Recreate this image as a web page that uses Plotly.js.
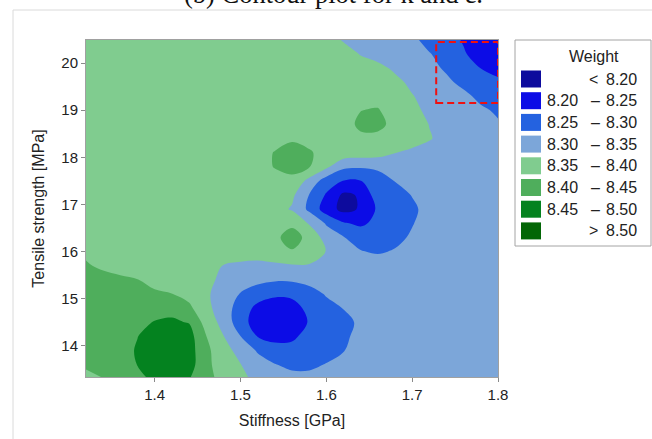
<!DOCTYPE html>
<html>
<head>
<meta charset="utf-8">
<script src="https://cdn.plot.ly/plotly-3.0.1.min.js"></script>
<style>
  html, body { margin: 0; padding: 0; background: #ffffff; }
  #chart { width: 652px; height: 439px; }
</style>
</head>
<body>
<div id="chart"></div>
<script>
// Sample grid: stiffness (GPa) along x, tensile strength (MPa) along y
const stiffness = [1.32, 1.34, 1.36, 1.38, 1.40, 1.42, 1.44, 1.46, 1.48, 1.50, 1.52, 1.54, 1.56,
                   1.58, 1.60, 1.62, 1.64, 1.66, 1.68, 1.70, 1.72, 1.74, 1.76, 1.78, 1.80];
const tensile = [13.3, 13.6, 13.9, 14.2, 14.5, 14.8, 15.1, 15.4, 15.7, 16.0, 16.3, 16.6, 16.9,
                 17.2, 17.5, 17.8, 18.1, 18.4, 18.7, 19.0, 19.3, 19.6, 19.9, 20.2, 20.5];

// Weight response, one row per tensile strength value (bottom to top)
const weight = [
  [8.390,8.399,8.410,8.435,8.460,8.470,8.452,8.415,8.385,8.360,8.340,8.325,8.315,8.312,8.315,8.320,8.325,8.325,8.325,8.325,8.325,8.325,8.325,8.325,8.325],
  [8.405,8.415,8.430,8.451,8.475,8.485,8.470,8.415,8.370,8.351,8.325,8.302,8.290,8.292,8.302,8.312,8.318,8.322,8.325,8.325,8.325,8.325,8.325,8.325,8.325],
  [8.405,8.415,8.430,8.455,8.480,8.490,8.470,8.415,8.360,8.341,8.294,8.270,8.265,8.270,8.285,8.299,8.310,8.320,8.325,8.325,8.325,8.325,8.325,8.325,8.325],
  [8.408,8.420,8.435,8.449,8.475,8.480,8.470,8.401,8.352,8.301,8.249,8.235,8.242,8.265,8.280,8.295,8.308,8.315,8.320,8.325,8.325,8.325,8.325,8.325,8.325],
  [8.410,8.420,8.430,8.440,8.452,8.455,8.448,8.381,8.333,8.271,8.226,8.215,8.225,8.253,8.275,8.292,8.305,8.315,8.320,8.325,8.325,8.325,8.325,8.325,8.325],
  [8.420,8.420,8.425,8.430,8.435,8.440,8.410,8.365,8.322,8.280,8.235,8.225,8.235,8.260,8.285,8.301,8.315,8.320,8.325,8.325,8.325,8.325,8.325,8.325,8.325],
  [8.425,8.420,8.415,8.410,8.405,8.401,8.385,8.355,8.335,8.297,8.275,8.258,8.258,8.280,8.304,8.315,8.320,8.325,8.325,8.325,8.325,8.325,8.325,8.325,8.325],
  [8.415,8.410,8.405,8.401,8.390,8.380,8.370,8.358,8.343,8.325,8.312,8.305,8.306,8.315,8.320,8.325,8.325,8.325,8.325,8.325,8.325,8.325,8.325,8.325,8.325],
  [8.403,8.395,8.390,8.385,8.380,8.375,8.370,8.360,8.349,8.340,8.335,8.340,8.345,8.345,8.335,8.325,8.320,8.320,8.322,8.325,8.325,8.325,8.325,8.325,8.325],
  [8.395,8.390,8.385,8.380,8.378,8.375,8.375,8.375,8.375,8.375,8.375,8.385,8.398,8.385,8.348,8.325,8.302,8.296,8.303,8.315,8.320,8.325,8.325,8.325,8.325],
  [8.375,8.375,8.375,8.375,8.375,8.375,8.375,8.375,8.375,8.375,8.380,8.395,8.410,8.393,8.327,8.302,8.285,8.280,8.290,8.305,8.315,8.320,8.325,8.325,8.325],
  [8.375,8.375,8.375,8.375,8.375,8.375,8.375,8.375,8.375,8.375,8.375,8.385,8.395,8.345,8.295,8.255,8.240,8.265,8.285,8.298,8.315,8.320,8.325,8.325,8.325],
  [8.375,8.375,8.375,8.375,8.375,8.375,8.375,8.375,8.375,8.375,8.375,8.370,8.345,8.290,8.225,8.185,8.205,8.258,8.280,8.295,8.309,8.318,8.322,8.325,8.325],
  [8.375,8.375,8.375,8.375,8.375,8.375,8.375,8.375,8.375,8.375,8.375,8.370,8.360,8.299,8.245,8.190,8.205,8.279,8.290,8.301,8.315,8.320,8.325,8.325,8.320],
  [8.375,8.375,8.375,8.375,8.375,8.375,8.375,8.375,8.375,8.375,8.380,8.385,8.390,8.335,8.275,8.248,8.249,8.275,8.301,8.315,8.320,8.325,8.325,8.320,8.320],
  [8.375,8.375,8.375,8.375,8.375,8.375,8.375,8.375,8.375,8.375,8.385,8.402,8.412,8.403,8.360,8.310,8.305,8.310,8.320,8.325,8.325,8.325,8.320,8.320,8.315],
  [8.375,8.375,8.375,8.375,8.375,8.375,8.375,8.375,8.375,8.375,8.385,8.402,8.415,8.405,8.384,8.380,8.375,8.370,8.351,8.340,8.335,8.330,8.325,8.320,8.315],
  [8.375,8.375,8.375,8.375,8.375,8.375,8.375,8.375,8.375,8.375,8.375,8.385,8.395,8.385,8.380,8.380,8.390,8.390,8.380,8.370,8.353,8.336,8.325,8.315,8.310],
  [8.375,8.375,8.375,8.375,8.375,8.375,8.375,8.375,8.375,8.375,8.375,8.375,8.375,8.375,8.375,8.381,8.410,8.410,8.389,8.370,8.349,8.335,8.325,8.315,8.305],
  [8.375,8.375,8.375,8.375,8.375,8.375,8.375,8.375,8.375,8.375,8.375,8.375,8.375,8.375,8.375,8.380,8.399,8.405,8.365,8.358,8.343,8.330,8.320,8.308,8.293],
  [8.375,8.375,8.375,8.375,8.375,8.375,8.375,8.375,8.375,8.375,8.375,8.375,8.375,8.375,8.375,8.375,8.375,8.375,8.365,8.352,8.335,8.325,8.312,8.287,8.275],
  [8.375,8.375,8.375,8.375,8.375,8.375,8.375,8.375,8.375,8.375,8.375,8.375,8.375,8.375,8.375,8.375,8.375,8.370,8.360,8.341,8.325,8.310,8.286,8.270,8.258],
  [8.375,8.375,8.375,8.375,8.375,8.375,8.375,8.375,8.375,8.375,8.375,8.375,8.375,8.375,8.375,8.375,8.370,8.360,8.343,8.330,8.315,8.292,8.275,8.249,8.235],
  [8.375,8.375,8.375,8.375,8.375,8.375,8.375,8.375,8.375,8.375,8.375,8.375,8.375,8.375,8.375,8.370,8.347,8.335,8.325,8.315,8.302,8.285,8.253,8.236,8.225],
  [8.375,8.375,8.375,8.375,8.375,8.375,8.375,8.375,8.375,8.375,8.375,8.375,8.375,8.375,8.372,8.345,8.330,8.325,8.318,8.309,8.285,8.262,8.247,8.235,8.225]
];

// Contour levels and their band colours (lowest band first)
const levelStart = 8.20, levelEnd = 8.50, levelStep = 0.05;
const bandColors = ['#0d0b9d', '#0c0ce6', '#2462e0', '#7ca6d9', '#80cc8f', '#4fae5c', '#04821f', '#036606'];
const bandLow  = ['',  '8.20', '8.25', '8.30', '8.35', '8.40', '8.45', ''];
const bandSign = ['<', '\u2013', '\u2013', '\u2013', '\u2013', '\u2013', '\u2013', '>'];
const bandHigh = ['8.20', '8.25', '8.30', '8.35', '8.40', '8.45', '8.50', '8.50'];

// Highlighted region (dashed box)
const boxStiffness = [1.728, 1.80];
const boxTensile = [19.153, 20.448];

// Page geometry
const W = 652, H = 439;
const M = { l: 86, r: 154, t: 40, b: 62 };
const PW = W - M.l - M.r, PH = H - M.t - M.b;
const px = x => (x - M.l) / PW;          // pixel column -> paper x
const py = y => (H - M.b - y) / PH;      // pixel row -> paper y

const nb = bandColors.length;
const zmin = levelStart - levelStep, zmax = levelEnd + levelStep;
const colorscale = [];
bandColors.forEach((c, i) => { colorscale.push([i / nb, c]); colorscale.push([(i + 1) / nb, c]); });

const sans = 'Liberation Sans, Arial, sans-serif';

const trace = {
  type: 'contour',
  x: stiffness, y: tensile, z: weight,
  zauto: false, zmin: zmin, zmax: zmax,
  colorscale: colorscale,
  autocontour: false,
  contours: { start: levelStart, end: levelEnd, size: levelStep, coloring: 'fill', showlines: false },
  line: { width: 0, smoothing: 1.0 },
  showscale: false,
  hoverinfo: 'skip'
};

const shapes = [
  // outer frame
  { type: 'rect', xref: 'paper', yref: 'paper', x0: px(13), x1: px(700), y0: py(10), y1: py(500),
    line: { color: '#dadada', width: 1 }, fillcolor: 'rgba(0,0,0,0)', layer: 'below' },
  // dashed highlight box
  { type: 'rect', xref: 'x', yref: 'y', x0: boxStiffness[0], x1: boxStiffness[1], y0: boxTensile[0], y1: boxTensile[1],
    line: { color: '#ee1111', width: 2, dash: '7px,4px' } },
  // legend box
  { type: 'rect', xref: 'paper', yref: 'paper', x0: px(515), x1: px(651), y0: py(246), y1: py(40),
    line: { color: '#a4a4a4', width: 1 }, fillcolor: '#ffffff' }
];

const annotations = [
  // figure caption running off the top of the page
  { xref: 'paper', yref: 'paper', x: px(333), y: py(11.5), xanchor: 'center', yanchor: 'bottom',
    text: '(b) Contour plot for k and \u03b5.', showarrow: false,
    font: { family: 'Liberation Serif, Times New Roman, serif', size: 26.5, color: '#111' } },
  { xref: 'paper', yref: 'paper', x: px(594), y: py(57), xanchor: 'center', yanchor: 'middle',
    text: 'Weight', showarrow: false, font: { family: sans, size: 16, color: '#222' } }
];

const rowY0 = 79, rowStep = 21.7;
bandColors.forEach((c, i) => {
  const ry = rowY0 + i * rowStep;
  shapes.push({ type: 'rect', xref: 'paper', yref: 'paper', x0: px(521), x1: px(541), y0: py(ry + 8.5), y1: py(ry - 8.5),
    line: { width: 0 }, fillcolor: c });
  const f = { family: sans, size: 16, color: '#222' };
  if (bandLow[i]) {
    annotations.push({ xref: 'paper', yref: 'paper', x: px(580), y: py(ry), xanchor: 'right', yanchor: 'middle',
      text: bandLow[i], showarrow: false, font: f });
  }
  annotations.push({ xref: 'paper', yref: 'paper', x: px(bandLow[i] ? 595 : 593), y: py(ry), xanchor: 'center', yanchor: 'middle',
    text: bandSign[i], showarrow: false, font: f });
  annotations.push({ xref: 'paper', yref: 'paper', x: px(639), y: py(ry), xanchor: 'right', yanchor: 'middle',
    text: bandHigh[i], showarrow: false, font: f });
});

const axisCommon = {
  showgrid: false, zeroline: false,
  showline: true, mirror: true, linecolor: '#a0a0a0', linewidth: 1,
  ticks: 'outside', ticklen: 4, tickcolor: '#8a8a8a', tickwidth: 1,
  tickfont: { family: sans, size: 15, color: '#222' }
};

const layout = {
  width: W, height: H,
  margin: M,
  paper_bgcolor: '#ffffff', plot_bgcolor: '#ffffff',
  showlegend: false,
  xaxis: Object.assign({}, axisCommon, {
    range: [1.32, 1.80], tick0: 1.4, dtick: 0.1, tickformat: '.1f',
    title: { text: 'Stiffness [GPa]', font: { family: sans, size: 16, color: '#222' }, standoff: 12 }
  }),
  yaxis: Object.assign({}, axisCommon, {
    range: [13.34, 20.49], tick0: 14, dtick: 1,
    title: { text: 'Tensile strength [MPa]', font: { family: sans, size: 16, color: '#222' }, standoff: 12 }
  }),
  shapes: shapes,
  annotations: annotations
};

Plotly.newPlot('chart', [trace], layout, { displayModeBar: false, staticPlot: true });
</script>
</body>
</html>
